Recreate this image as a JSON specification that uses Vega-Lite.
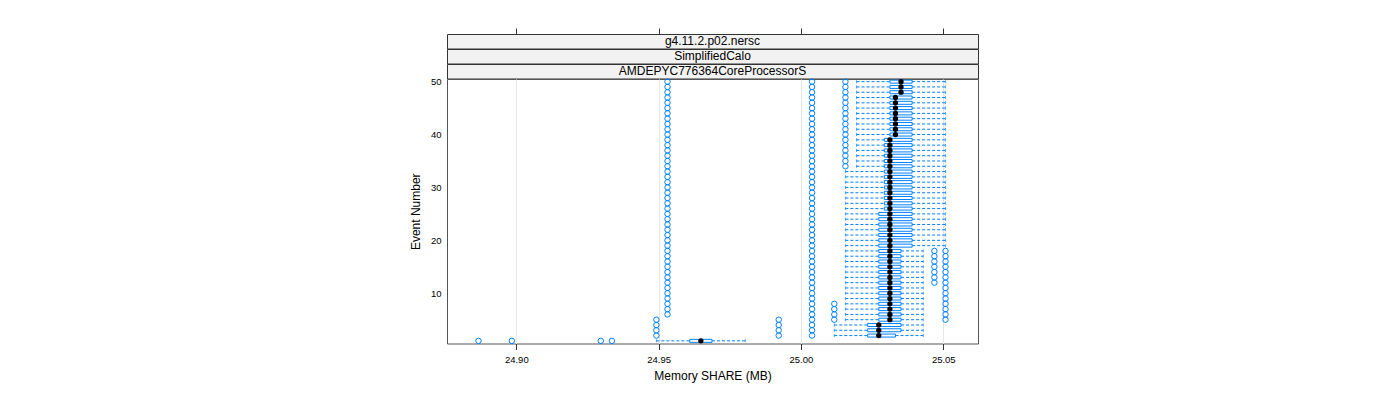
{
  "$schema": "https://vega.github.io/schema/vega-lite/v6.json",
  "padding": {"left": 408, "top": 27, "right": 5, "bottom": 5},
  "spacing": 0,
  "bounds": "flush",
  "config": {
    "font": "Liberation Sans",
    "view": {"stroke": null},
    "axis": {"titleFontWeight": "normal", "labelColor": "black", "titleColor": "black", "labelFont": "Liberation Sans", "titleFont": "Liberation Sans"}
  },
  "datasets": {
    "stats": [
      {"e":1,"lo":24.94921875,"q1":24.9609375,"md":24.96484375,"q3":24.96875,"hi":24.98046875},
      {"e":2,"lo":25.01171875,"q1":25.0234375,"md":25.02734375,"q3":25.033203125,"hi":25.04296875},
      {"e":3,"lo":25.01171875,"q1":25.0234375,"md":25.02734375,"q3":25.03515625,"hi":25.04296875},
      {"e":4,"lo":25.01171875,"q1":25.0234375,"md":25.02734375,"q3":25.03515625,"hi":25.04296875},
      {"e":5,"lo":25.015625,"q1":25.02734375,"md":25.03125,"q3":25.03515625,"hi":25.04296875},
      {"e":6,"lo":25.015625,"q1":25.02734375,"md":25.03125,"q3":25.03515625,"hi":25.04296875},
      {"e":7,"lo":25.015625,"q1":25.02734375,"md":25.03125,"q3":25.03515625,"hi":25.04296875},
      {"e":8,"lo":25.015625,"q1":25.02734375,"md":25.03125,"q3":25.03515625,"hi":25.04296875},
      {"e":9,"lo":25.015625,"q1":25.02734375,"md":25.03125,"q3":25.03515625,"hi":25.04296875},
      {"e":10,"lo":25.015625,"q1":25.02734375,"md":25.03125,"q3":25.03515625,"hi":25.04296875},
      {"e":11,"lo":25.015625,"q1":25.02734375,"md":25.03125,"q3":25.03515625,"hi":25.04296875},
      {"e":12,"lo":25.015625,"q1":25.02734375,"md":25.03125,"q3":25.03515625,"hi":25.04296875},
      {"e":13,"lo":25.015625,"q1":25.02734375,"md":25.03125,"q3":25.03515625,"hi":25.04296875},
      {"e":14,"lo":25.015625,"q1":25.02734375,"md":25.03125,"q3":25.03515625,"hi":25.04296875},
      {"e":15,"lo":25.015625,"q1":25.02734375,"md":25.03125,"q3":25.03515625,"hi":25.04296875},
      {"e":16,"lo":25.015625,"q1":25.02734375,"md":25.03125,"q3":25.03515625,"hi":25.04296875},
      {"e":17,"lo":25.015625,"q1":25.02734375,"md":25.03125,"q3":25.03515625,"hi":25.04296875},
      {"e":18,"lo":25.015625,"q1":25.02734375,"md":25.03125,"q3":25.03515625,"hi":25.04296875},
      {"e":19,"lo":25.015625,"q1":25.02734375,"md":25.03125,"q3":25.0390625,"hi":25.05078125},
      {"e":20,"lo":25.015625,"q1":25.02734375,"md":25.03125,"q3":25.0390625,"hi":25.05078125},
      {"e":21,"lo":25.015625,"q1":25.02734375,"md":25.03125,"q3":25.0390625,"hi":25.05078125},
      {"e":22,"lo":25.015625,"q1":25.02734375,"md":25.03125,"q3":25.0390625,"hi":25.05078125},
      {"e":23,"lo":25.015625,"q1":25.02734375,"md":25.03125,"q3":25.0390625,"hi":25.05078125},
      {"e":24,"lo":25.015625,"q1":25.02734375,"md":25.03125,"q3":25.0390625,"hi":25.05078125},
      {"e":25,"lo":25.015625,"q1":25.02734375,"md":25.03125,"q3":25.0390625,"hi":25.05078125},
      {"e":26,"lo":25.015625,"q1":25.029296875,"md":25.03125,"q3":25.0390625,"hi":25.05078125},
      {"e":27,"lo":25.015625,"q1":25.029296875,"md":25.03125,"q3":25.0390625,"hi":25.05078125},
      {"e":28,"lo":25.015625,"q1":25.029296875,"md":25.03125,"q3":25.0390625,"hi":25.05078125},
      {"e":29,"lo":25.015625,"q1":25.029296875,"md":25.03125,"q3":25.0390625,"hi":25.05078125},
      {"e":30,"lo":25.015625,"q1":25.029296875,"md":25.03125,"q3":25.0390625,"hi":25.05078125},
      {"e":31,"lo":25.015625,"q1":25.029296875,"md":25.03125,"q3":25.0390625,"hi":25.05078125},
      {"e":32,"lo":25.015625,"q1":25.029296875,"md":25.03125,"q3":25.0390625,"hi":25.05078125},
      {"e":33,"lo":25.015625,"q1":25.029296875,"md":25.03125,"q3":25.0390625,"hi":25.05078125},
      {"e":34,"lo":25.01953125,"q1":25.029296875,"md":25.03125,"q3":25.0390625,"hi":25.05078125},
      {"e":35,"lo":25.01953125,"q1":25.029296875,"md":25.03125,"q3":25.0390625,"hi":25.05078125},
      {"e":36,"lo":25.01953125,"q1":25.029296875,"md":25.03125,"q3":25.0390625,"hi":25.05078125},
      {"e":37,"lo":25.01953125,"q1":25.029296875,"md":25.03125,"q3":25.0390625,"hi":25.05078125},
      {"e":38,"lo":25.01953125,"q1":25.029296875,"md":25.03125,"q3":25.0390625,"hi":25.05078125},
      {"e":39,"lo":25.01953125,"q1":25.029296875,"md":25.03125,"q3":25.0390625,"hi":25.05078125},
      {"e":40,"lo":25.01953125,"q1":25.03125,"md":25.033203125,"q3":25.0390625,"hi":25.05078125},
      {"e":41,"lo":25.01953125,"q1":25.03125,"md":25.033203125,"q3":25.0390625,"hi":25.05078125},
      {"e":42,"lo":25.01953125,"q1":25.03125,"md":25.033203125,"q3":25.0390625,"hi":25.05078125},
      {"e":43,"lo":25.01953125,"q1":25.03125,"md":25.033203125,"q3":25.0390625,"hi":25.05078125},
      {"e":44,"lo":25.01953125,"q1":25.03125,"md":25.033203125,"q3":25.0390625,"hi":25.05078125},
      {"e":45,"lo":25.01953125,"q1":25.03125,"md":25.033203125,"q3":25.0390625,"hi":25.05078125},
      {"e":46,"lo":25.01953125,"q1":25.03125,"md":25.033203125,"q3":25.0390625,"hi":25.05078125},
      {"e":47,"lo":25.01953125,"q1":25.03125,"md":25.033203125,"q3":25.0390625,"hi":25.05078125},
      {"e":48,"lo":25.01953125,"q1":25.03125,"md":25.03515625,"q3":25.0390625,"hi":25.05078125},
      {"e":49,"lo":25.01953125,"q1":25.03125,"md":25.03515625,"q3":25.0390625,"hi":25.05078125},
      {"e":50,"lo":25.01953125,"q1":25.03125,"md":25.03515625,"q3":25.0390625,"hi":25.05078125}
    ],
    "out": [
      {"e":1,"v":24.88671875},{"e":1,"v":24.8984375},{"e":1,"v":24.9296875},{"e":1,"v":24.93359375},
      {"e":2,"v":24.94921875},{"e":2,"v":24.9921875},{"e":2,"v":25.00390625},
      {"e":3,"v":24.94921875},{"e":3,"v":24.9921875},{"e":3,"v":25.00390625},
      {"e":4,"v":24.94921875},{"e":4,"v":24.9921875},{"e":4,"v":25.00390625},
      {"e":5,"v":24.94921875},{"e":5,"v":24.9921875},{"e":5,"v":25.00390625},{"e":5,"v":25.01171875},{"e":5,"v":25.05078125},
      {"e":6,"v":24.953125},{"e":6,"v":25.00390625},{"e":6,"v":25.01171875},{"e":6,"v":25.05078125},
      {"e":7,"v":24.953125},{"e":7,"v":25.00390625},{"e":7,"v":25.01171875},{"e":7,"v":25.05078125},
      {"e":8,"v":24.953125},{"e":8,"v":25.00390625},{"e":8,"v":25.01171875},{"e":8,"v":25.05078125},
      {"e":9,"v":24.953125},{"e":9,"v":25.00390625},{"e":9,"v":25.05078125},
      {"e":10,"v":24.953125},{"e":10,"v":25.00390625},{"e":10,"v":25.05078125},
      {"e":11,"v":24.953125},{"e":11,"v":25.00390625},{"e":11,"v":25.05078125},
      {"e":12,"v":24.953125},{"e":12,"v":25.00390625},{"e":12,"v":25.046875},{"e":12,"v":25.05078125},
      {"e":13,"v":24.953125},{"e":13,"v":25.00390625},{"e":13,"v":25.046875},{"e":13,"v":25.05078125},
      {"e":14,"v":24.953125},{"e":14,"v":25.00390625},{"e":14,"v":25.046875},{"e":14,"v":25.05078125},
      {"e":15,"v":24.953125},{"e":15,"v":25.00390625},{"e":15,"v":25.046875},{"e":15,"v":25.05078125},
      {"e":16,"v":24.953125},{"e":16,"v":25.00390625},{"e":16,"v":25.046875},{"e":16,"v":25.05078125},
      {"e":17,"v":24.953125},{"e":17,"v":25.00390625},{"e":17,"v":25.046875},{"e":17,"v":25.05078125},
      {"e":18,"v":24.953125},{"e":18,"v":25.00390625},{"e":18,"v":25.046875},{"e":18,"v":25.05078125},
      {"e":19,"v":24.953125},{"e":19,"v":25.00390625},
      {"e":20,"v":24.953125},{"e":20,"v":25.00390625},
      {"e":21,"v":24.953125},{"e":21,"v":25.00390625},
      {"e":22,"v":24.953125},{"e":22,"v":25.00390625},
      {"e":23,"v":24.953125},{"e":23,"v":25.00390625},
      {"e":24,"v":24.953125},{"e":24,"v":25.00390625},
      {"e":25,"v":24.953125},{"e":25,"v":25.00390625},
      {"e":26,"v":24.953125},{"e":26,"v":25.00390625},
      {"e":27,"v":24.953125},{"e":27,"v":25.00390625},
      {"e":28,"v":24.953125},{"e":28,"v":25.00390625},
      {"e":29,"v":24.953125},{"e":29,"v":25.00390625},
      {"e":30,"v":24.953125},{"e":30,"v":25.00390625},
      {"e":31,"v":24.953125},{"e":31,"v":25.00390625},
      {"e":32,"v":24.953125},{"e":32,"v":25.00390625},
      {"e":33,"v":24.953125},{"e":33,"v":25.00390625},
      {"e":34,"v":24.953125},{"e":34,"v":25.00390625},{"e":34,"v":25.015625},
      {"e":35,"v":24.953125},{"e":35,"v":25.00390625},{"e":35,"v":25.015625},
      {"e":36,"v":24.953125},{"e":36,"v":25.00390625},{"e":36,"v":25.015625},
      {"e":37,"v":24.953125},{"e":37,"v":25.00390625},{"e":37,"v":25.015625},
      {"e":38,"v":24.953125},{"e":38,"v":25.00390625},{"e":38,"v":25.015625},
      {"e":39,"v":24.953125},{"e":39,"v":25.00390625},{"e":39,"v":25.015625},
      {"e":40,"v":24.953125},{"e":40,"v":25.00390625},{"e":40,"v":25.015625},
      {"e":41,"v":24.953125},{"e":41,"v":25.00390625},{"e":41,"v":25.015625},
      {"e":42,"v":24.953125},{"e":42,"v":25.00390625},{"e":42,"v":25.015625},
      {"e":43,"v":24.953125},{"e":43,"v":25.00390625},{"e":43,"v":25.015625},
      {"e":44,"v":24.953125},{"e":44,"v":25.00390625},{"e":44,"v":25.015625},
      {"e":45,"v":24.953125},{"e":45,"v":25.00390625},{"e":45,"v":25.015625},
      {"e":46,"v":24.953125},{"e":46,"v":25.00390625},{"e":46,"v":25.015625},
      {"e":47,"v":24.953125},{"e":47,"v":25.00390625},{"e":47,"v":25.015625},
      {"e":48,"v":24.953125},{"e":48,"v":25.00390625},{"e":48,"v":25.015625},
      {"e":49,"v":24.953125},{"e":49,"v":25.00390625},{"e":49,"v":25.015625},
      {"e":50,"v":24.953125},{"e":50,"v":25.00390625},{"e":50,"v":25.015625}
    ]
  },
  "vconcat": [
    {
      "width": 531, "height": 14.5,
      "view": {"fill": "#f2f2f2", "stroke": "#333333"},
      "data": {"values": [{"label": "g4.11.2.p02.nersc"}]},
      "mark": {"type": "text", "fontSize": 12, "color": "black"},
      "encoding": {
        "text": {"field": "label"},
        "x": {"datum": 24.96893, "type": "quantitative",
              "scale": {"domain": [24.87566, 25.0622], "nice": false, "zero": false, "padding": 0},
              "axis": {"orient": "top", "values": [24.9, 24.95, 25.0, 25.05], "labels": false, "ticks": true, "tickSize": 6, "tickColor": "#333333", "domain": false, "grid": false, "title": null}}
      }
    },
    {
      "width": 531, "height": 14.5,
      "view": {"fill": "#f2f2f2", "stroke": "#333333"},
      "data": {"values": [{"label": "SimplifiedCalo"}]},
      "mark": {"type": "text", "fontSize": 12, "color": "black"},
      "encoding": {"text": {"field": "label"}}
    },
    {
      "width": 531, "height": 14.5,
      "view": {"fill": "#f2f2f2", "stroke": "#333333"},
      "data": {"values": [{"label": "AMDEPYC776364CoreProcessorS"}]},
      "mark": {"type": "text", "fontSize": 12, "color": "black"},
      "encoding": {"text": {"field": "label"}}
    },
    {
      "width": 531, "height": 264.5,
      "view": {"stroke": "#555555", "strokeWidth": 1},
      "layer": [
        {
          "data": {"name": "stats"},
          "mark": {"type": "rule", "color": "#0080ff", "strokeDash": [3, 2], "strokeWidth": 1},
          "encoding": {
            "x": {"field": "lo", "type": "quantitative",
                  "scale": {"domain": [24.87566, 25.0622], "nice": false, "zero": false, "padding": 0},
                  "axis": {"orient": "bottom", "values": [24.9, 24.95, 25.0, 25.05], "format": ".2f", "tickSize": 6, "tickColor": "#333333", "labelFontSize": 9.5, "labelPadding": 5, "domain": false, "grid": true, "gridColor": "#e6e6e6", "title": "Memory SHARE (MB)", "titleFontSize": 12, "titlePadding": 6}},
            "x2": {"field": "q1"},
            "y": {"field": "e", "type": "quantitative",
                  "scale": {"domain": [0.5, 50.5], "nice": false, "zero": false, "padding": 0},
                  "axis": {"values": [10, 20, 30, 40, 50], "ticks": false, "domain": false, "grid": false, "labelFontSize": 9.5, "labelPadding": 6, "title": "Event Number", "titleFontSize": 12, "titlePadding": 8}}
          }
        },
        {
          "data": {"name": "stats"},
          "mark": {"type": "rule", "color": "#0080ff", "strokeDash": [3, 2], "strokeWidth": 1},
          "encoding": {
            "x": {"field": "q3", "type": "quantitative"},
            "x2": {"field": "hi"},
            "y": {"field": "e", "type": "quantitative"}
          }
        },
        {
          "data": {"name": "stats"},
          "mark": {"type": "tick", "orient": "vertical", "color": "#0080ff", "size": 3, "thickness": 1},
          "encoding": {
            "x": {"field": "lo", "type": "quantitative"},
            "y": {"field": "e", "type": "quantitative"}
          }
        },
        {
          "data": {"name": "stats"},
          "mark": {"type": "tick", "orient": "vertical", "color": "#0080ff", "size": 3, "thickness": 1},
          "encoding": {
            "x": {"field": "hi", "type": "quantitative"},
            "y": {"field": "e", "type": "quantitative"}
          }
        },
        {
          "data": {"name": "stats"},
          "mark": {"type": "bar", "orient": "horizontal", "height": 3, "fill": "white", "stroke": "#0080ff", "strokeWidth": 1},
          "encoding": {
            "x": {"field": "q1", "type": "quantitative"},
            "x2": {"field": "q3"},
            "y": {"field": "e", "type": "quantitative"}
          }
        },
        {
          "data": {"name": "out"},
          "mark": {"type": "point", "shape": "circle", "filled": false, "color": "#0080ff", "size": 30, "strokeWidth": 1, "opacity": 1},
          "encoding": {
            "x": {"field": "v", "type": "quantitative"},
            "y": {"field": "e", "type": "quantitative"}
          }
        },
        {
          "data": {"name": "stats"},
          "mark": {"type": "point", "shape": "circle", "filled": true, "color": "black", "size": 28, "opacity": 1},
          "encoding": {
            "x": {"field": "md", "type": "quantitative"},
            "y": {"field": "e", "type": "quantitative"}
          }
        }
      ]
    }
  ]
}
